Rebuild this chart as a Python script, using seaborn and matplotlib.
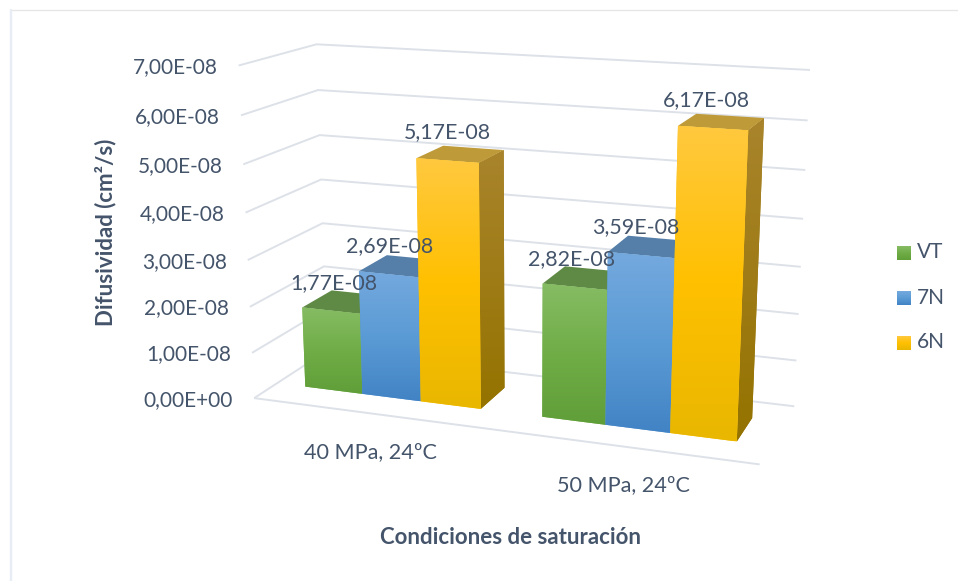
import numpy as np
import pandas as pd
import matplotlib
matplotlib.use("Agg")
import matplotlib.pyplot as plt
from matplotlib.colors import to_rgb
from matplotlib.patches import Polygon
from matplotlib.path import Path
from matplotlib.transforms import IdentityTransform, Transform
import seaborn as sns

# ---- chart values ----
conditions = ["40 MPa, 24ºC", "50 MPa, 24ºC"]
series = ["VT", "7N", "6N"]
vt_values = [1.77e-8, 2.82e-8]
n7_values = [2.69e-8, 3.59e-8]
n6_values = [5.17e-8, 6.17e-8]
y_ticks = [0, 1e-8, 2e-8, 3e-8, 4e-8, 5e-8, 6e-8, 7e-8]
y_title = "Difusividad (cm²/s)"
x_title = "Condiciones de saturación"

# ---- styling ----
WIDTH, HEIGHT = 958, 581
TEXT = "#44546A"
GRID = "#DDE1E8"
FONT = "Lato"
FRONT = {"VT": ["#86BC64", "#70AD47", "#609E39"],
         "7N": ["#74A9DE", "#5B9BD5", "#4283C5"],
         "6N": ["#FFC93F", "#FFC000", "#E9B700"]}
TOP = {"VT": "#5F8A45", "7N": "#557FA9", "6N": "#BF9A38"}
SIDE = {"VT": ["#5F8A45", "#4A7A2A"], "7N": ["#557FA9", "#30689C"], "6N": ["#A9842C", "#947300"]}
BAR_WIDTH = 0.75
DEPTH_FRONT, DEPTH_BACK = 0.30, 0.71
X_RANGE = (-0.5, 1.5)
UNIT = 1e-8
LABEL_CENTRE_U = 450
LABEL_PULL = 0.025

# Camera of the 3D box: (category x, value in units, depth) -> image pixel.
box_world = np.array([
    [-0.5, 7, 0], [-0.5, 0, 0], [1.5, 0, 0], [-0.5, 7, 1], [-0.5, 0, 1],
    [1.5, 7, 1], [1.5, 0, 1], [-0.5, 4, 0], [-0.5, 2, 1],
], float)
box_pixel = np.array([
    [238.7, 66], [254.3, 397.3], [760, 464.7], [316.7, 44], [327, 352],
    [810, 70], [794, 406], [245, 212.7], [324, 265.7],
], float)


def fit_camera(world, pixel):
    rows = []
    for (x, y, z), (u, v) in zip(world, pixel / 1000):
        rows.append([x, y, z, 1, 0, 0, 0, 0, -u * x, -u * y, -u * z, -u])
        rows.append([0, 0, 0, 0, x, y, z, 1, -v * x, -v * y, -v * z, -v])
    return np.linalg.svd(np.array(rows))[2][-1].reshape(3, 4)


CAMERA = fit_camera(box_world, box_pixel)


def project(x, y, plane):
    """Category x, data value and depth to display coordinates."""
    x, y = np.broadcast_arrays(np.asarray(x, float), np.asarray(y, float))
    d = np.full_like(x, plane, dtype=float)
    h = np.stack([x, y / UNIT, d, np.ones_like(x)], axis=-1) @ CAMERA.T
    u = 1000 * h[..., 0] / h[..., 2]
    v = 1000 * h[..., 1] / h[..., 2]
    return np.stack([u, HEIGHT - v], axis=-1)


class BoxPlane(Transform):
    """Maps data coordinates onto a vertical plane of the box at a given depth."""
    input_dims = 2
    output_dims = 2
    has_inverse = False

    def __init__(self, plane):
        super().__init__()
        self.plane = plane

    def transform_non_affine(self, values):
        values = np.asarray(values, float)
        return project(values[:, 0], values[:, 1], self.plane)


def stops_to_column(stops, n=128):
    colors = np.array([to_rgb(c) for c in stops])
    pos = np.linspace(0, 1, len(stops))
    t = np.linspace(0, 1, n)
    return np.stack([np.interp(t, pos, colors[:, i]) for i in range(3)], axis=-1)[:, None, :]


def gradient_face(ax, corners, stops, zorder, clip=None):
    """Vertical colour ramp filling a polygon given in display coordinates."""
    corners = np.asarray(corners)
    extent = (corners[:, 0].min(), corners[:, 0].max(), corners[:, 1].min(), corners[:, 1].max())
    im = ax.imshow(stops_to_column(stops), extent=extent, aspect="auto", origin="upper",
                   transform=IdentityTransform(), zorder=zorder, interpolation="bilinear")
    if clip is None:
        im.set_clip_path(Path(np.vstack([corners, corners[:1]]), closed=True), IdentityTransform())
    else:
        im.set_clip_path(clip.get_path(), clip.get_transform())


def px_text(ax, u, v, s, **kw):
    return ax.text(u, HEIGHT - v, s, transform=IdentityTransform(), color=TEXT, **kw)


def comma_sci(value):
    return f"{value:.2E}".replace(".", ",")


sns.set_theme(style="white")
plt.rcParams["font.family"] = [FONT, "DejaVu Sans"]

fig = plt.figure(figsize=(WIDTH / 100, HEIGHT / 100), dpi=100, facecolor="white")
ax = fig.add_axes([0, 0, 1, 1])

table = pd.DataFrame({
    "condicion": conditions * 3,
    "serie": np.repeat(series, 2),
    "difusividad": vt_values + n7_values + n6_values,
})
sns.barplot(data=table, x="condicion", y="difusividad", hue="serie", hue_order=series,
            order=conditions, palette=[FRONT[s][1] for s in series], saturation=1,
            width=BAR_WIDTH, gap=0, dodge=True, legend=False, linewidth=0, ax=ax)
ax.set_autoscale_on(False)
ax.set_xlim(*X_RANGE)
ax.set_ylim(0, y_ticks[-1])
ax.axis("off")

# Chart area outline
ax.plot([10, WIDTH], [HEIGHT - 10, HEIGHT - 10], color="#E6E6E6", lw=1.0,
        transform=IdentityTransform(), zorder=0)
ax.plot([10.5, 10.5], [HEIGHT - 10, 0], color="#E8ECF5", lw=1.7,
        transform=IdentityTransform(), zorder=0)

# Gridlines on the side wall and the back wall, plus the front edge of the floor
for tick in y_ticks:
    pts = np.vstack([project(X_RANGE[0], tick, 0), project(X_RANGE[0], tick, 1),
                     project(X_RANGE[1], tick, 1)])
    ax.plot(pts[:, 0], pts[:, 1], color=GRID, lw=1.4, transform=IdentityTransform(),
            zorder=1, solid_joinstyle="miter", solid_capstyle="butt")
    u, v = project(X_RANGE[0], tick, 0)
    px_text(ax, u - 21, HEIGHT - v + 1.5, comma_sci(tick), ha="right", va="center", fontsize=15)
floor_edge = np.vstack([project(X_RANGE[0], 0, 0), project(X_RANGE[1], 0, 0)])
ax.plot(floor_edge[:, 0], floor_edge[:, 1], color=GRID, lw=1.4,
        transform=IdentityTransform(), zorder=1, solid_capstyle="butt")

# Each seaborn bar becomes the front face of a box; top and side follow from its extent
bars = []
for name, container in zip(series, ax.containers):
    bars.extend((name, rect) for rect in container)
bars.sort(key=lambda item: item[1].get_x())

for i, (name, rect) in enumerate(bars):
    x0, x1 = rect.get_x(), rect.get_x() + rect.get_width()
    value = rect.get_height()
    z = 10 + i * 5

    side = np.vstack([project(x1, 0, DEPTH_FRONT), project(x1, value, DEPTH_FRONT),
                      project(x1, value, DEPTH_BACK), project(x1, 0, DEPTH_BACK)])
    ax.add_patch(Polygon(side, closed=True, transform=IdentityTransform(),
                         facecolor=SIDE[name][1], edgecolor="none", zorder=z))
    gradient_face(ax, side, SIDE[name], z + 0.5)

    top = np.vstack([project(x0, value, DEPTH_FRONT), project(x1, value, DEPTH_FRONT),
                     project(x1, value, DEPTH_BACK), project(x0, value, DEPTH_BACK)])
    ax.add_patch(Polygon(top, closed=True, transform=IdentityTransform(),
                         facecolor=TOP[name], edgecolor="none", zorder=z + 1))

    rect.set_transform(BoxPlane(DEPTH_FRONT))
    rect.set_zorder(z + 2)
    front = np.vstack([project(x0, 0, DEPTH_FRONT), project(x1, 0, DEPTH_FRONT),
                       project(x1, value, DEPTH_FRONT), project(x0, value, DEPTH_FRONT)])
    gradient_face(ax, front, FRONT[name], z + 2.5, clip=rect)

    # Value label above the bar, drawn slightly towards the middle of the box
    u, v = project((x0 + x1) / 2, value, DEPTH_FRONT)
    u -= (u - LABEL_CENTRE_U) * LABEL_PULL
    px_text(ax, u, HEIGHT - v - 28, comma_sci(value), ha="center", va="center",
            fontsize=15.4, zorder=100)

ax.set_xlim(*X_RANGE)
ax.set_ylim(0, y_ticks[-1])

# Category labels under the floor's front edge
for i, label in enumerate(conditions):
    u, v = project(i, 0, 0)
    px_text(ax, u, HEIGHT - v + 39, label, ha="center", va="center", fontsize=15.6)

# Axis titles
px_text(ax, 106, 232, y_title, rotation=90, ha="center", va="center", fontsize=16, fontweight="bold")
px_text(ax, 510, 538, x_title, ha="center", va="center", fontsize=16, fontweight="bold")

# Legend
for name, row in zip(series, [253, 298, 343]):
    swatch = np.array([[897, HEIGHT - row - 7], [911, HEIGHT - row - 7],
                       [911, HEIGHT - row + 7], [897, HEIGHT - row + 7]])
    gradient_face(ax, swatch, FRONT[name], 50)
    px_text(ax, 916.5, row - 0.5, name, ha="left", va="center", fontsize=15)

fig.savefig("out.png", dpi=100, facecolor="white")
